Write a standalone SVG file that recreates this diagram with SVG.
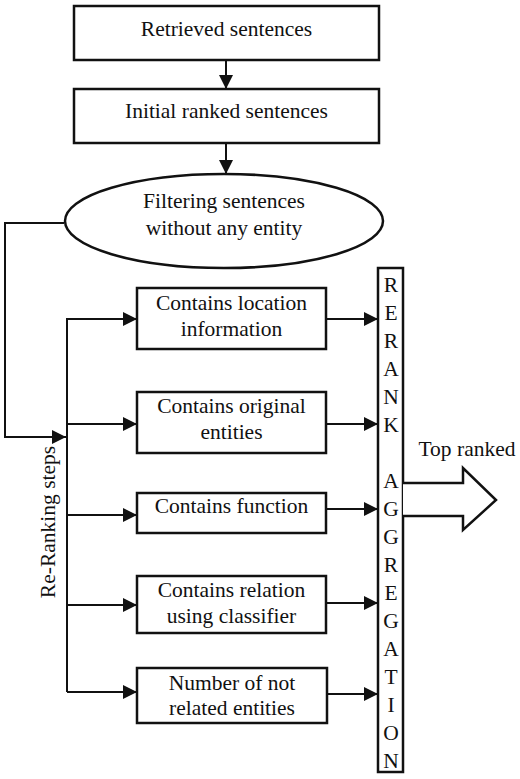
<svg xmlns="http://www.w3.org/2000/svg" width="520" height="779" viewBox="0 0 520 779">
<defs>
<marker id="ah" viewBox="0 0 14 14" refX="14" refY="7" markerWidth="14" markerHeight="14" markerUnits="userSpaceOnUse" orient="auto">
<path d="M0,0 L14,7 L0,14 z" fill="#111"/>
</marker>
<style>
.box{fill:#fff;stroke:#111;stroke-width:2.5}
.t{font-family:"Liberation Serif","Times New Roman",serif;font-size:21.5px;fill:#111;text-anchor:middle}
.ln{fill:none;stroke:#111;stroke-width:2}
.ar{fill:none;stroke:#111;stroke-width:2;marker-end:url(#ah)}
</style>
</defs>
<rect width="520" height="779" fill="#fff"/>

<g id="connectors">
<line class="ar" x1="226" y1="60" x2="226" y2="89"/>
<line class="ar" x1="226" y1="143" x2="226" y2="174"/>
<polyline class="ar" points="64,223 5,223 5,437 66,437"/>
<line class="ln" x1="67" y1="318" x2="67" y2="692"/>
<line class="ar" x1="67" y1="319" x2="137" y2="319"/>
<line class="ar" x1="67" y1="424" x2="137" y2="424"/>
<line class="ar" x1="67" y1="515" x2="137" y2="515"/>
<line class="ar" x1="67" y1="605" x2="137" y2="605"/>
<line class="ar" x1="67" y1="692" x2="137" y2="692"/>
<line class="ar" x1="326" y1="319" x2="378" y2="319"/>
<line class="ar" x1="326" y1="424" x2="378" y2="424"/>
<line class="ar" x1="326" y1="509" x2="378" y2="509"/>
<line class="ar" x1="326" y1="603" x2="378" y2="603"/>
<line class="ar" x1="327" y1="694" x2="378" y2="694"/>
</g>

<g id="retrieved">
<rect class="box" x="74" y="6" width="305" height="54"/>
<text class="t" x="226.5" y="36" font-size="22.5">Retrieved sentences</text>
</g>
<g id="initial">
<rect class="box" x="74" y="89" width="305" height="54"/>
<text class="t" x="226.5" y="118" font-size="22.5">Initial ranked sentences</text>
</g>
<g id="filtering">
<ellipse class="box" cx="224" cy="221" rx="159" ry="47"/>
<text class="t" x="224" y="208">Filtering sentences</text>
<text class="t" x="224" y="235">without any entity</text>
</g>
<g id="location">
<rect class="box" x="137" y="288" width="189" height="61"/>
<text class="t" x="231.5" y="310">Contains location</text>
<text class="t" x="231.5" y="336">information</text>
</g>
<g id="original">
<rect class="box" x="137" y="392" width="189" height="61"/>
<text class="t" x="231.5" y="413">Contains original</text>
<text class="t" x="231.5" y="439">entities</text>
</g>
<g id="function">
<rect class="box" x="137" y="493" width="189" height="40"/>
<text class="t" x="231.5" y="513">Contains function</text>
</g>
<g id="relation">
<rect class="box" x="137" y="576" width="189" height="57"/>
<text class="t" x="231.5" y="597">Contains relation</text>
<text class="t" x="231.5" y="623">using classifier</text>
</g>
<g id="notrelated">
<rect class="box" x="137" y="668" width="190" height="55"/>
<text class="t" x="232" y="690">Number of not</text>
<text class="t" x="232" y="715">related entities</text>
</g>

<g id="steps-label">
<text class="t" font-size="20.5" transform="translate(55,522) rotate(-90)">Re-Ranking steps</text>
</g>

<g id="aggregation">
<rect class="box" x="378" y="268" width="25" height="504"/>
<g class="t" font-size="19">
<text x="391" y="292">R</text>
<text x="391" y="320">E</text>
<text x="391" y="348">R</text>
<text x="391" y="376">A</text>
<text x="391" y="404">N</text>
<text x="391" y="432">K</text>
<text x="391" y="488">A</text>
<text x="391" y="516">G</text>
<text x="391" y="544">G</text>
<text x="391" y="572">R</text>
<text x="391" y="600">E</text>
<text x="391" y="628">G</text>
<text x="391" y="656">A</text>
<text x="391" y="684">T</text>
<text x="391" y="712">I</text>
<text x="391" y="740">O</text>
<text x="391" y="768">N</text>
</g>
</g>

<g id="top-ranked">
<path d="M403,483 L463,483 L463,468 L496,500 L463,530 L463,516 L403,516" fill="#fff" stroke="#111" stroke-width="2.5" stroke-linejoin="miter"/>
<text class="t" x="467" y="456" font-size="22.5">Top ranked</text>
</g>
</svg>
